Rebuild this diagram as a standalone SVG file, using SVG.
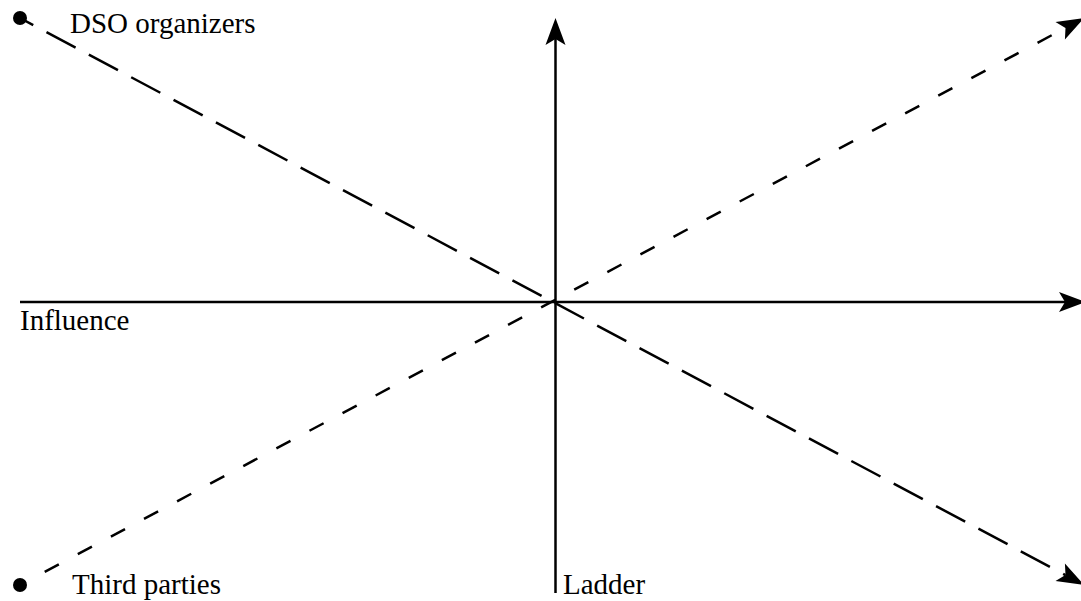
<svg xmlns="http://www.w3.org/2000/svg" width="1081" height="601" viewBox="0 0 1081 601">
  <style>
    .axis { stroke: #000; stroke-width: 2.5; fill: none; }
    .long { stroke: #000; stroke-width: 2.5; fill: none; stroke-dasharray: 33 15; }
    .short { stroke: #000; stroke-width: 2.5; fill: none; stroke-dasharray: 16 21.5; }
    .dot { fill: #000; }
    .lbl { font-family: 'Liberation Serif', 'Times New Roman', Times, serif; font-size: 29px; fill: #000; }
  </style>
  <defs>
    <marker id="arr" markerUnits="userSpaceOnUse" markerWidth="28" markerHeight="22" refX="6" refY="10" orient="auto" overflow="visible">
      <path d="M0,0 L27,10 L0,20 L6,10 Z" fill="#000"/>
    </marker>
  </defs>
  <rect width="1081" height="601" fill="#fff"/>
  <g id="connectors">
    <path class="axis" d="M555.5,593 L555.5,39" marker-end="url(#arr)"/>
    <path class="axis" d="M20,302 L1065,302" marker-end="url(#arr)"/>
    <path class="long" style="stroke-dashoffset:18" d="M20,18 L1065.5,575.1" marker-end="url(#arr)"/>
    <path class="short" style="stroke-dashoffset:9.5" d="M20,585 L1065.5,27.9" marker-end="url(#arr)"/>
  </g>
  <g id="dso-organizers">
    <circle class="dot" cx="20" cy="18" r="7"/>
    <text class="lbl" x="70" y="33">DSO organizers</text>
  </g>
  <g id="third-parties">
    <circle class="dot" cx="20" cy="585" r="7"/>
    <text class="lbl" x="72" y="594">Third parties</text>
  </g>
  <g id="influence">
    <text class="lbl" x="20" y="330">Influence</text>
  </g>
  <g id="ladder">
    <text class="lbl" x="563" y="594">Ladder</text>
  </g>
</svg>
